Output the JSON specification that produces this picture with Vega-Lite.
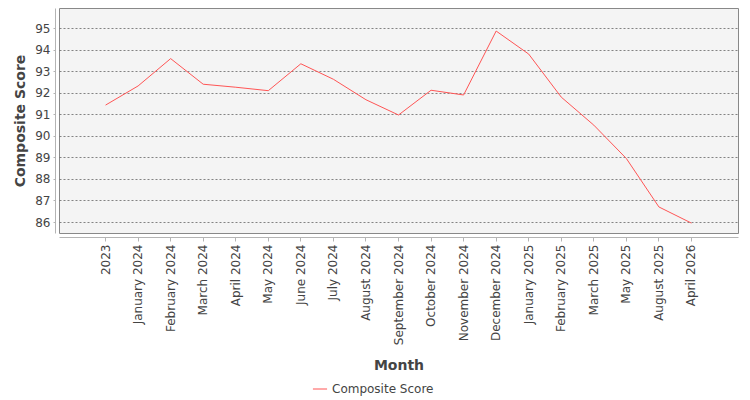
{
  "$schema": "https://vega.github.io/schema/vega-lite/v6.json",
  "autosize": "none",
  "width": 679,
  "height": 225,
  "padding": {"left": 59, "top": 8, "right": 12, "bottom": 167},
  "background": "#ffffff",
  "config": {
    "font": "DejaVu Sans",
    "view": {"fill": "#f4f4f4", "stroke": "#888888", "strokeWidth": 1}
  },
  "data": {
    "values": [
      {"Month": "2023", "Score": 91.43},
      {"Month": "January 2024", "Score": 92.32},
      {"Month": "February 2024", "Score": 93.59},
      {"Month": "March 2024", "Score": 92.4},
      {"Month": "April 2024", "Score": 92.26},
      {"Month": "May 2024", "Score": 92.1},
      {"Month": "June 2024", "Score": 93.35},
      {"Month": "July 2024", "Score": 92.63},
      {"Month": "August 2024", "Score": 91.68},
      {"Month": "September 2024", "Score": 90.97},
      {"Month": "October 2024", "Score": 92.12},
      {"Month": "November 2024", "Score": 91.9},
      {"Month": "December 2024", "Score": 94.87},
      {"Month": "January 2025", "Score": 93.8},
      {"Month": "February 2025", "Score": 91.8},
      {"Month": "March 2025", "Score": 90.5},
      {"Month": "May 2025", "Score": 88.95},
      {"Month": "August 2025", "Score": 86.7},
      {"Month": "April 2026", "Score": 85.95}
    ]
  },
  "transform": [{"calculate": "'Composite Score'", "as": "Series"}],
  "mark": {"type": "line", "strokeWidth": 1, "interpolate": "linear"},
  "encoding": {
    "x": {
      "field": "Month",
      "type": "ordinal",
      "sort": null,
      "scale": {"type": "band", "paddingInner": 0, "paddingOuter": 0.93},
      "axis": {
        "title": "Month",
        "titleFontSize": 14,
        "titleFontWeight": "bold",
        "titleColor": "#444444",
        "titlePadding": 14,
        "labelAngle": 270,
        "labelAlign": "right",
        "labelBaseline": "middle",
        "labelFontSize": 12,
        "labelColor": "#444444",
        "labelPadding": 3,
        "offset": 4,
        "bandPosition": 0.5,
        "domainColor": "#b4b4b4",
        "tickColor": "#b4b4b4",
        "tickSize": 4,
        "grid": false
      }
    },
    "y": {
      "field": "Score",
      "type": "quantitative",
      "scale": {"domain": [85.49, 95.94], "nice": false, "zero": false},
      "axis": {
        "title": "Composite Score",
        "titleFontSize": 14,
        "titleFontWeight": "bold",
        "titleColor": "#444444",
        "titlePadding": 7,
        "values": [86, 87, 88, 89, 90, 91, 92, 93, 94, 95],
        "labelFontSize": 12,
        "labelColor": "#444444",
        "labelPadding": 3,
        "offset": 4,
        "domainColor": "#b4b4b4",
        "tickColor": "#b4b4b4",
        "tickSize": 2,
        "grid": true,
        "gridColor": "#666666",
        "gridDash": [2, 2],
        "gridWidth": 0.8
      }
    },
    "color": {
      "field": "Series",
      "type": "nominal",
      "scale": {"range": ["#ff5555"]},
      "legend": {
        "title": null,
        "orient": "none",
        "legendX": 253,
        "legendY": 373,
        "symbolType": "stroke",
        "symbolSize": 200,
        "symbolStrokeWidth": 1,
        "labelFontSize": 12,
        "labelColor": "#444444",
        "labelOffset": 4
      }
    }
  }
}
